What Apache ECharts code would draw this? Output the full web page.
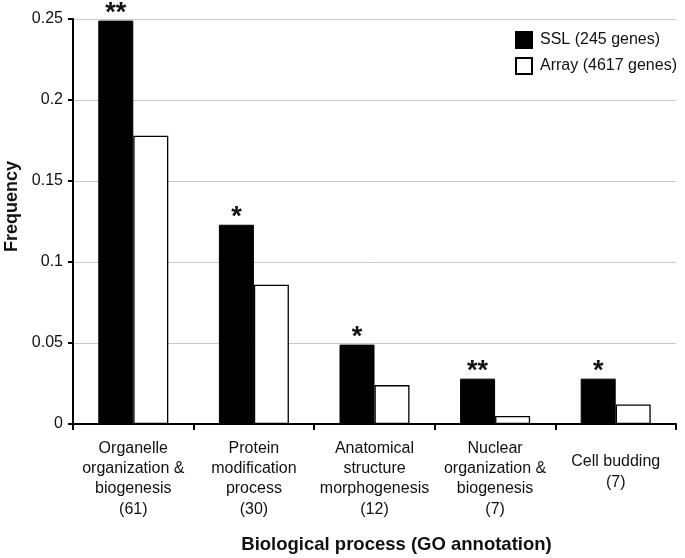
<!DOCTYPE html>
<html>
<head>
<meta charset="utf-8">
<script src="https://cdn.jsdelivr.net/npm/echarts@6/dist/echarts.min.js"></script>
<style>html,body{margin:0;padding:0;background:#fff}#c{width:685px;height:558px}</style>
</head>
<body>
<div id="c"></div>
<script>
var categories = ["Organelle\norganization &\nbiogenesis", "Protein\nmodification\nprocess", "Anatomical\nstructure\nmorphogenesis", "Nuclear\norganization &\nbiogenesis", "Cell budding"];
var geneCounts = ["(61)", "(30)", "(12)", "(7)", "(7)"];
var sslValues = [0.249, 0.123, 0.049, 0.028, 0.028];
var arrayValues = [0.178, 0.086, 0.024, 0.005, 0.012];
var significance = ["**", "*", "*", "**", "*"];
var yTicks = [0, 0.05, 0.1, 0.15, 0.2, 0.25];

var FONT = '"Liberation Sans", Arial, sans-serif';
var chart = echarts.init(document.getElementById('c'), null, {renderer: 'canvas'});
chart.setOption({
  animation: false,
  backgroundColor: '#fff',
  textStyle: {fontFamily: FONT},
  grid: {left: 73, right: 9, top: 19, bottom: 134, containLabel: false, outerBoundsMode: 'none'},
  legend: {
    orient: 'vertical', left: 510, top: 26, itemWidth: 16, itemHeight: 16, itemGap: 8,
    icon: 'rect',
    textStyle: {fontSize: 16, color: '#111', fontFamily: FONT, padding: [0, 0, 0, 3]},
    data: ['SSL (245 genes)', 'Array (4617 genes)']
  },
  xAxis: {
    type: 'category', data: categories,
    name: 'Biological process (GO annotation)', nameLocation: 'middle', nameGap: 111,
    nameTextStyle: {fontSize: 18.5, fontWeight: 'bold', color: '#111', fontFamily: FONT, padding: [0, 0, 0, 44]},
    axisLine: {lineStyle: {color: '#000', width: 2}},
    axisTick: {show: true, length: 6, lineStyle: {color: '#000', width: 2}},
    axisLabel: {
      margin: 15, interval: 0, color: '#111', fontSize: 16, fontFamily: FONT,
      formatter: function (v, i) {
        var lines = v.split('\n').map(function (s) { return '{t|' + s + '}'; });
        var pre = lines.length < 3 ? '{pad| }\n' : '';
        return pre + lines.join('\n') + '\n{n|' + geneCounts[i] + '}';
      },
      rich: {
        t: {fontSize: 16, lineHeight: 20, color: '#111', fontFamily: FONT},
        n: {fontSize: 16, lineHeight: 22, color: '#111', fontFamily: FONT},
        pad: {fontSize: 8, lineHeight: 13}
      }
    }
  },
  yAxis: {
    type: 'value', min: 0, max: 0.25, interval: 0.05,
    name: 'Frequency', nameLocation: 'middle', nameGap: 52,
    nameTextStyle: {fontSize: 18, fontWeight: 'bold', color: '#111', fontFamily: FONT, padding: [0, 0, 0, 30]},
    axisLine: {show: true, lineStyle: {color: '#000', width: 2}},
    axisTick: {show: true, length: 5, lineStyle: {color: '#000', width: 2}},
    axisLabel: {margin: 10, fontSize: 16, color: '#111', fontFamily: FONT,
      formatter: function (v) { var t = yTicks.filter(function (x) { return Math.abs(x - v) < 1e-9; }); return t.length ? String(t[0]) : ''; }},
    splitLine: {show: true, lineStyle: {color: '#c8c8c8', width: 1}}
  },
  series: [
    {
      name: 'SSL (245 genes)', type: 'bar', data: sslValues, barWidth: 35, barGap: '0%',
      itemStyle: {color: '#000', borderColor: '#000', borderWidth: 1},
      label: {show: true, position: 'top', distance: -6, fontSize: 27, fontWeight: 'bold', color: '#111', fontFamily: FONT,
        formatter: function (p) { return significance[p.dataIndex]; }}
    },
    {
      name: 'Array (4617 genes)', type: 'bar', data: arrayValues, barWidth: 35,
      itemStyle: {color: '#fff', borderColor: '#000', borderWidth: 1.3}
    }
  ]
});
</script>
</body>
</html>
